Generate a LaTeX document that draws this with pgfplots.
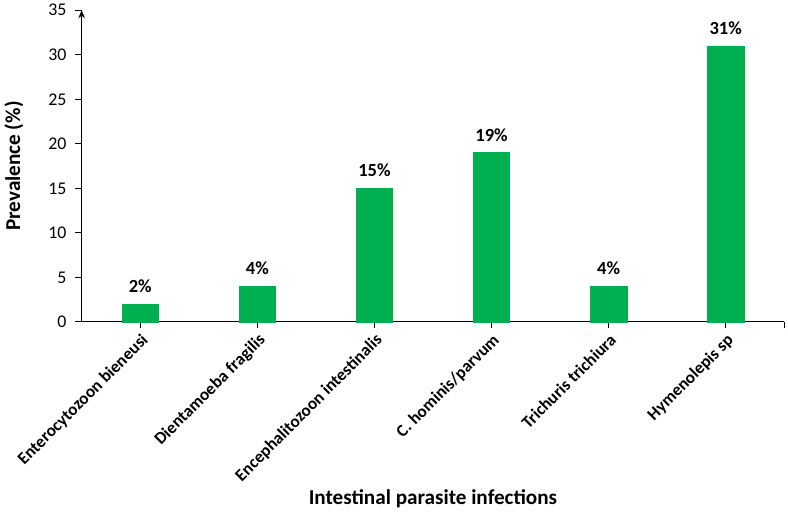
\documentclass[border=0pt]{standalone}
\usepackage{pgfplots}
\pgfplotsset{compat=1.18}
\usepackage{fontspec}
\setmainfont{Carlito}
\usetikzlibrary{arrows.meta}
\definecolor{bargreen}{RGB}{0,176,80}

\begin{document}
\begin{tikzpicture}
\begin{axis}[
    scale only axis,
    width=531pt, height=235.5pt,
    ybar,
    bar width=0.31,
    xmin=-0.5, xmax=5.5,
    ymin=0, ymax=35,
    ytick={0,5,...,35},
    xtick=data,
    extra x ticks={5.5},
    extra x tick labels={},
    xticklabels={Enterocytozoon bieneusi, Dientamoeba fragilis, Encephalitozoon intestinalis, C. hominis/parvum, Trichuris trichiura, Hymenolepis sp},
    axis x line*=bottom,
    axis y line*=left,
    y axis line style={-{Stealth[length=6pt,width=5pt]}},
    axis line style={black, line width=0.8pt},
    tick align=outside,
    major tick length=5pt,
    tick style={black, line width=0.8pt},
    /pgf/number format/assume math mode=true,
    yticklabel style={font=\fontsize{13.5}{14}\selectfont, xshift=-3pt},
    xticklabel style={font=\fontsize{13}{14}\selectfont\bfseries, rotate=45, anchor=north east, inner sep=2pt},
    ylabel={\textbf{Prevalence (\%)}},
    xlabel={\textbf{Intestinal parasite infections}},
    label style={font=\fontsize{16}{18}\selectfont},
    ylabel shift=12pt,
    xlabel shift=-12pt,
    nodes near coords={\textbf{\pgfmathprintnumber{\pgfplotspointmeta}\%}},
    nodes near coords style={font=\fontsize{14}{16}\selectfont, yshift=5pt},
    clip=false,
    ]
\addplot [draw=bargreen, fill=bargreen] coordinates {(0,2) (1,4) (2,15) (3,19) (4,4) (5,31)};
\end{axis}
\end{tikzpicture}
\end{document}
